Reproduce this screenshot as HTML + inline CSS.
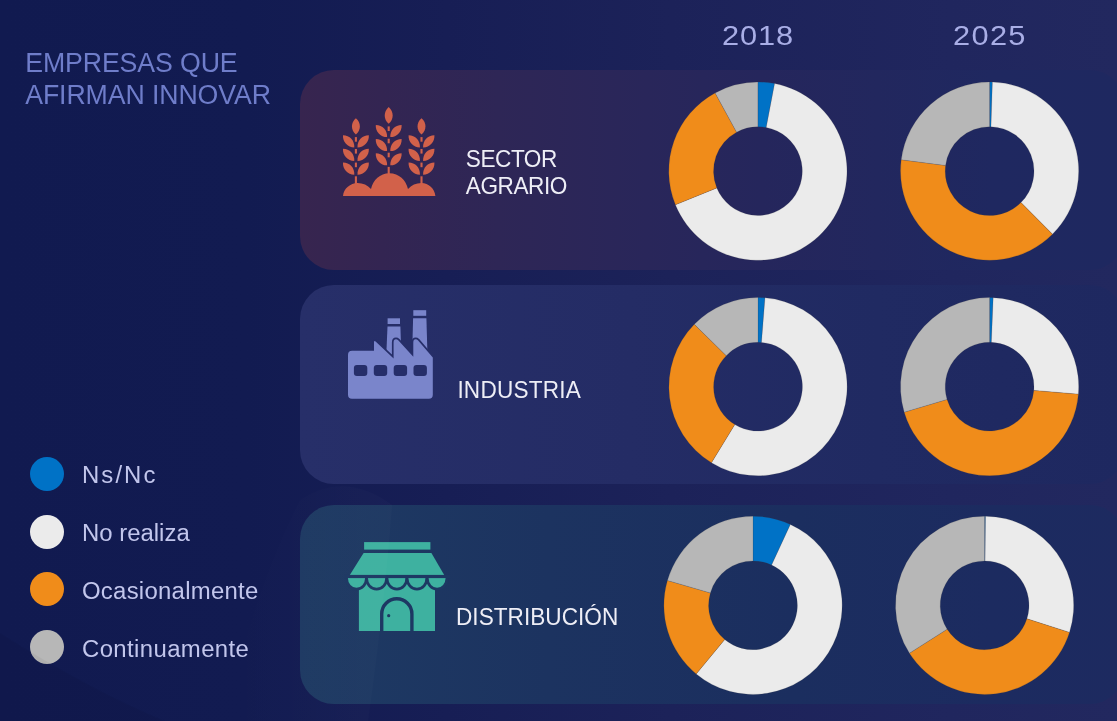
<!DOCTYPE html>
<html lang="es">
<head>
<meta charset="utf-8">
<title>Empresas que afirman innovar</title>
<style>
html,body{margin:0;padding:0}
body{width:1117px;height:721px;overflow:hidden;position:relative;font-family:"Liberation Sans",Arial,sans-serif;
background:linear-gradient(90deg,#111a50 0%,#121b51 22%,#171e55 40%,#1c2259 60%,#20265e 85%,#22285f 100%)}
.panel{position:absolute;left:300px;width:824px;border-radius:34px}
#p1{top:70px;height:200px;background:linear-gradient(90deg,#37254f 0%,#332552 10%,#2e2656 24%,#29265a 42%,#25265c 56%,#1f2860 84%,#1e2860 100%)}
#p2{top:285px;height:199px;background:linear-gradient(90deg,#272f69 0%,#242c65 40%,#202a62 70%,#1e2860 100%)}
#p3{top:505px;height:199px;background:linear-gradient(90deg,#1e3a63 0%,#1c3360 30%,#1b2e5f 60%,#1c2b60 84%,#1d2a60 100%)}
.title{position:absolute;left:25.2px;top:46.6px;font-size:26.7px;line-height:30.3px;letter-spacing:-.1px;color:#6f7dca;white-space:nowrap;transform:scaleY(1.05);transform-origin:0 0}
.lab{position:absolute;color:#eeeef6;font-size:22.6px;line-height:27.2px;white-space:nowrap;transform:scaleY(1.03);transform-origin:0 0}
.year{position:absolute;color:#a9aee6;font-size:28px;line-height:30px;letter-spacing:.8px;white-space:nowrap;transform:scaleX(1.1);transform-origin:0 0}
.leg{position:absolute;left:81.7px;color:#c2c6ec;font-size:23px;line-height:26px;white-space:nowrap;transform:scaleX(1.04);transform-origin:0 0}
.dot{position:absolute;left:29.7px;width:34.6px;height:34.6px;margin-top:-.3px;border-radius:50%}
svg{position:absolute;left:0;top:0}
</style>
</head>
<body>
<div class="panel" id="p1"></div>
<div class="panel" id="p2"></div>
<div class="panel" id="p3"></div>

<div class="title">EMPRESAS QUE<br>AFIRMAN INNOVAR</div>

<div class="year" id="y1" style="left:722px;top:20.5px">2018</div>
<div class="year" id="y2" style="left:953px;top:20.5px;letter-spacing:1.2px">2025</div>

<div class="lab" id="l1" style="left:465.8px;top:144.9px;letter-spacing:-.45px">SECTOR<br>AGRARIO</div>
<div class="lab" id="l2" style="left:457.4px;top:376.1px;letter-spacing:.2px">INDUSTRIA</div>
<div class="lab" id="l3" style="left:456px;top:603.3px;letter-spacing:.03px">DISTRIBUCIÓN</div>

<div class="dot" style="top:457px;background:#0072c6"></div>
<div class="dot" style="top:515px;background:#ebebeb"></div>
<div class="dot" style="top:572px;background:#f08c1a"></div>
<div class="dot" style="top:630px;background:#b7b7b7"></div>
<div class="leg" id="g1" style="top:462px;letter-spacing:2px">Ns/Nc</div>
<div class="leg" id="g2" style="top:520.2px">No realiza</div>
<div class="leg" id="g3" style="top:577.6px;letter-spacing:.25px">Ocasionalmente</div>
<div class="leg" id="g4" style="top:636.3px;letter-spacing:.37px">Continuamente</div>

<svg width="1117" height="721" viewBox="0 0 1117 721">
<defs><linearGradient id="lg1" x1="0" x2="1" y1="0" y2="0"><stop offset="0" stop-color="#fff" stop-opacity="0"/><stop offset="1" stop-color="#fff" stop-opacity=".016"/></linearGradient></defs>
<path d="M0 633Q90 690 165 721H0Z" fill="#000" fill-opacity=".04"/>
<g fill="#d2614a">
<path transform="translate(388.70 123.80) rotate(0)" d="M0 0C5.30 -4.73 5.30 -12.17 0 -16.90C-5.30 -12.17 -5.30 -4.73 0 0Z"/>
<path transform="translate(387.10 137.10) rotate(-43)" d="M0 0C4.90 -4.65 4.90 -11.95 0 -16.60C-4.90 -11.95 -4.90 -4.65 0 0Z"/>
<path transform="translate(390.30 137.10) rotate(43)" d="M0 0C4.90 -4.65 4.90 -11.95 0 -16.60C-4.90 -11.95 -4.90 -4.65 0 0Z"/>
<path transform="translate(387.10 151.10) rotate(-43)" d="M0 0C4.90 -4.65 4.90 -11.95 0 -16.60C-4.90 -11.95 -4.90 -4.65 0 0Z"/>
<path transform="translate(390.30 151.10) rotate(43)" d="M0 0C4.90 -4.65 4.90 -11.95 0 -16.60C-4.90 -11.95 -4.90 -4.65 0 0Z"/>
<path transform="translate(387.10 165.30) rotate(-43)" d="M0 0C4.90 -4.65 4.90 -11.95 0 -16.60C-4.90 -11.95 -4.90 -4.65 0 0Z"/>
<path transform="translate(390.30 165.30) rotate(43)" d="M0 0C4.90 -4.65 4.90 -11.95 0 -16.60C-4.90 -11.95 -4.90 -4.65 0 0Z"/>
<rect x="387.65" y="126.40" width="2.1" height="4.60"/>
<rect x="387.65" y="138.70" width="2.1" height="4.60"/>
<rect x="387.65" y="152.70" width="2.1" height="4.60"/>
<rect x="387.65" y="166.90" width="2.1" height="7.10"/>
<path transform="translate(355.90 134.50) rotate(0)" d="M0 0C5.30 -4.54 5.30 -11.66 0 -16.20C-5.30 -11.66 -5.30 -4.54 0 0Z"/>
<path transform="translate(354.30 147.40) rotate(-43)" d="M0 0C4.90 -4.65 4.90 -11.95 0 -16.60C-4.90 -11.95 -4.90 -4.65 0 0Z"/>
<path transform="translate(357.50 147.40) rotate(43)" d="M0 0C4.90 -4.65 4.90 -11.95 0 -16.60C-4.90 -11.95 -4.90 -4.65 0 0Z"/>
<path transform="translate(354.30 161.00) rotate(-43)" d="M0 0C4.90 -4.65 4.90 -11.95 0 -16.60C-4.90 -11.95 -4.90 -4.65 0 0Z"/>
<path transform="translate(357.50 161.00) rotate(43)" d="M0 0C4.90 -4.65 4.90 -11.95 0 -16.60C-4.90 -11.95 -4.90 -4.65 0 0Z"/>
<path transform="translate(354.30 174.70) rotate(-43)" d="M0 0C4.90 -4.65 4.90 -11.95 0 -16.60C-4.90 -11.95 -4.90 -4.65 0 0Z"/>
<path transform="translate(357.50 174.70) rotate(43)" d="M0 0C4.90 -4.65 4.90 -11.95 0 -16.60C-4.90 -11.95 -4.90 -4.65 0 0Z"/>
<rect x="354.85" y="137.10" width="2.1" height="4.60"/>
<rect x="354.85" y="149.00" width="2.1" height="4.60"/>
<rect x="354.85" y="162.60" width="2.1" height="4.60"/>
<rect x="354.85" y="176.30" width="2.1" height="7.70"/>
<path transform="translate(421.50 134.50) rotate(0)" d="M0 0C5.30 -4.54 5.30 -11.66 0 -16.20C-5.30 -11.66 -5.30 -4.54 0 0Z"/>
<path transform="translate(419.90 147.40) rotate(-43)" d="M0 0C4.90 -4.65 4.90 -11.95 0 -16.60C-4.90 -11.95 -4.90 -4.65 0 0Z"/>
<path transform="translate(423.10 147.40) rotate(43)" d="M0 0C4.90 -4.65 4.90 -11.95 0 -16.60C-4.90 -11.95 -4.90 -4.65 0 0Z"/>
<path transform="translate(419.90 161.00) rotate(-43)" d="M0 0C4.90 -4.65 4.90 -11.95 0 -16.60C-4.90 -11.95 -4.90 -4.65 0 0Z"/>
<path transform="translate(423.10 161.00) rotate(43)" d="M0 0C4.90 -4.65 4.90 -11.95 0 -16.60C-4.90 -11.95 -4.90 -4.65 0 0Z"/>
<path transform="translate(419.90 174.70) rotate(-43)" d="M0 0C4.90 -4.65 4.90 -11.95 0 -16.60C-4.90 -11.95 -4.90 -4.65 0 0Z"/>
<path transform="translate(423.10 174.70) rotate(43)" d="M0 0C4.90 -4.65 4.90 -11.95 0 -16.60C-4.90 -11.95 -4.90 -4.65 0 0Z"/>
<rect x="420.45" y="137.10" width="2.1" height="4.60"/>
<rect x="420.45" y="149.00" width="2.1" height="4.60"/>
<rect x="420.45" y="162.60" width="2.1" height="4.60"/>
<rect x="420.45" y="176.30" width="2.1" height="7.70"/>
<path d="M343 196C343.6 188.5 350.5 183 357.5 183C363 183 367.6 185.3 371 189C373 180 380 173.2 389.4 173.2C399 173.2 406 180 408 189C411.4 185.3 416 183 421.5 183C428.5 183 434.6 188.5 435.4 196Z"/>
</g>
<g fill="#7a85cb">
<rect x="387.6" y="318.3" width="12.4" height="5.7"/>
<path d="M387.5 326.5H400.4L401.4 359H386.1Z"/>
<rect x="413.3" y="310.2" width="12.9" height="5.6"/>
<path d="M413.1 318.2H426.4L427.5 356H412.1Z"/>
<path d="M374 351V342.2Q374 340 375.6 341.5L393.6 358.6V342.4Q393.6 339.2 396 339.2Q397.2 339.2 398.2 340.2L413.3 356.8V342.4Q413.3 339.2 415.7 339.2Q416.9 339.2 417.9 340.2L432.8 357.6" fill="none" stroke="#262e69" stroke-width="3.4" stroke-linejoin="round"/>
<path d="M348 355Q348 350.8 352.2 350.8H374V342.2Q374 340 375.6 341.5L393.6 358.6V342.4Q393.6 339.2 396 339.2Q397.2 339.2 398.2 340.2L413.3 356.8V342.4Q413.3 339.2 415.7 339.2Q416.9 339.2 417.9 340.2L432.8 357.6V394.8Q432.8 398.8 428.8 398.8H352Q348 398.8 348 394.8Z"/>
</g>
<g fill="#262e69">
<rect x="353.9" y="365.1" width="13.4" height="10.9" rx="3" ry="3"/>
<rect x="373.8" y="365.1" width="13.4" height="10.9" rx="3" ry="3"/>
<rect x="393.7" y="365.1" width="13.4" height="10.9" rx="3" ry="3"/>
<rect x="413.5" y="365.1" width="13.4" height="10.9" rx="3" ry="3"/>
</g>
<g fill="#3eb1a0">
<rect x="364.1" y="542.1" width="66.3" height="7.5"/>
<path d="M363.6 552.9H431.4L444.2 574.9H349.8Z"/>
<rect x="358.9" y="580" width="76.1" height="51"/>
<path d="M347.9 578.1H365.1A8.60 9.6 0 0 1 347.9 578.1Z" stroke="#1d3863" stroke-width="5.6" paint-order="stroke" />
<path d="M367.9 578.1H385.3A8.70 9.6 0 0 1 367.9 578.1Z" stroke="#1d3863" stroke-width="5.6" paint-order="stroke" />
<path d="M388.3 578.1H405.5A8.60 9.6 0 0 1 388.3 578.1Z" stroke="#1d3863" stroke-width="5.6" paint-order="stroke" />
<path d="M408.4 578.1H425.5A8.55 9.6 0 0 1 408.4 578.1Z" stroke="#1d3863" stroke-width="5.6" paint-order="stroke" />
<path d="M428.6 578.1H445.6A8.50 9.6 0 0 1 428.6 578.1Z" stroke="#1d3863" stroke-width="5.6" paint-order="stroke" />
</g>
<rect x="344" y="574.9" width="106" height="3.2" fill="#1d3863"/>
<path d="M381.7 631V613.9A15.1 15.1 0 0 1 411.9 613.9V631" fill="none" stroke="#1d3863" stroke-width="3.4"/>
<circle cx="388.7" cy="615.7" r="1.6" fill="#1d3863"/>
<path d="M300 500Q345 470 392 505Q385 600 368 721H225Q250 600 300 500Z" fill="url(#lg1)"/>
<g stroke="#3a3a3a" stroke-opacity=".3" stroke-width=".5" stroke-linejoin="round">
<path d="M757.90 82.00A89.1 89.1 0 0 1 774.60 83.58L766.22 127.49A44.4 44.4 0 0 0 757.90 126.70Z" fill="#0072c6"/>
<path d="M774.60 83.58A89.1 89.1 0 1 1 675.40 204.77L716.79 187.88A44.4 44.4 0 1 0 766.22 127.49Z" fill="#ebebeb"/>
<path d="M675.40 204.77A89.1 89.1 0 0 1 715.11 92.95L736.58 132.15A44.4 44.4 0 0 0 716.79 187.88Z" fill="#f08c1a"/>
<path d="M715.11 92.95A89.1 89.1 0 0 1 757.90 82.00L757.90 126.70A44.4 44.4 0 0 0 736.58 132.15Z" fill="#b7b7b7"/>
</g>
<g stroke="#3a3a3a" stroke-opacity=".3" stroke-width=".5" stroke-linejoin="round">
<path d="M989.60 82.00A89.1 89.1 0 0 1 992.40 82.04L990.99 126.72A44.4 44.4 0 0 0 989.60 126.70Z" fill="#0072c6"/>
<path d="M992.40 82.04A89.1 89.1 0 0 1 1052.49 234.21L1020.94 202.55A44.4 44.4 0 0 0 990.99 126.72Z" fill="#ebebeb"/>
<path d="M1052.49 234.21A89.1 89.1 0 0 1 901.22 159.78L945.56 165.46A44.4 44.4 0 0 0 1020.94 202.55Z" fill="#f08c1a"/>
<path d="M901.22 159.78A89.1 89.1 0 0 1 989.60 82.00L989.60 126.70A44.4 44.4 0 0 0 945.56 165.46Z" fill="#b7b7b7"/>
</g>
<g stroke="#3a3a3a" stroke-opacity=".3" stroke-width=".5" stroke-linejoin="round">
<path d="M758.00 297.60A89.1 89.1 0 0 1 764.99 297.87L761.48 342.44A44.4 44.4 0 0 0 758.00 342.30Z" fill="#0072c6"/>
<path d="M764.99 297.87A89.1 89.1 0 1 1 711.45 462.67L734.80 424.56A44.4 44.4 0 1 0 761.48 342.44Z" fill="#ebebeb"/>
<path d="M711.45 462.67A89.1 89.1 0 0 1 694.34 324.36L726.28 355.63A44.4 44.4 0 0 0 734.80 424.56Z" fill="#f08c1a"/>
<path d="M694.34 324.36A89.1 89.1 0 0 1 758.00 297.60L758.00 342.30A44.4 44.4 0 0 0 726.28 355.63Z" fill="#b7b7b7"/>
</g>
<g stroke="#3a3a3a" stroke-opacity=".3" stroke-width=".5" stroke-linejoin="round">
<path d="M989.60 297.60A89.1 89.1 0 0 1 993.18 297.67L991.38 342.34A44.4 44.4 0 0 0 989.60 342.30Z" fill="#0072c6"/>
<path d="M993.18 297.67A89.1 89.1 0 0 1 1078.39 394.16L1033.84 390.42A44.4 44.4 0 0 0 991.38 342.34Z" fill="#ebebeb"/>
<path d="M1078.39 394.16A89.1 89.1 0 0 1 904.21 412.15L947.05 399.38A44.4 44.4 0 0 0 1033.84 390.42Z" fill="#f08c1a"/>
<path d="M904.21 412.15A89.1 89.1 0 0 1 989.60 297.60L989.60 342.30A44.4 44.4 0 0 0 947.05 399.38Z" fill="#b7b7b7"/>
</g>
<g stroke="#3a3a3a" stroke-opacity=".3" stroke-width=".5" stroke-linejoin="round">
<path d="M753.00 516.20A89.1 89.1 0 0 1 790.37 524.42L771.62 564.99A44.4 44.4 0 0 0 753.00 560.90Z" fill="#0072c6"/>
<path d="M790.37 524.42A89.1 89.1 0 1 1 696.21 673.95L724.70 639.51A44.4 44.4 0 1 0 771.62 564.99Z" fill="#ebebeb"/>
<path d="M696.21 673.95A89.1 89.1 0 0 1 667.44 580.44L710.36 592.91A44.4 44.4 0 0 0 724.70 639.51Z" fill="#f08c1a"/>
<path d="M667.44 580.44A89.1 89.1 0 0 1 753.00 516.20L753.00 560.90A44.4 44.4 0 0 0 710.36 592.91Z" fill="#b7b7b7"/>
</g>
<g stroke="#3a3a3a" stroke-opacity=".3" stroke-width=".5" stroke-linejoin="round">
<path d="M984.60 516.20A89.1 89.1 0 0 1 985.53 516.20L985.06 560.90A44.4 44.4 0 0 0 984.60 560.90Z" fill="#0072c6"/>
<path d="M985.53 516.20A89.1 89.1 0 0 1 1069.48 632.39L1026.90 618.80A44.4 44.4 0 0 0 985.06 560.90Z" fill="#ebebeb"/>
<path d="M1069.48 632.39A89.1 89.1 0 0 1 909.45 653.17L947.15 629.16A44.4 44.4 0 0 0 1026.90 618.80Z" fill="#f08c1a"/>
<path d="M909.45 653.17A89.1 89.1 0 0 1 984.60 516.20L984.60 560.90A44.4 44.4 0 0 0 947.15 629.16Z" fill="#b7b7b7"/>
</g>
</svg>
</body>
</html>
